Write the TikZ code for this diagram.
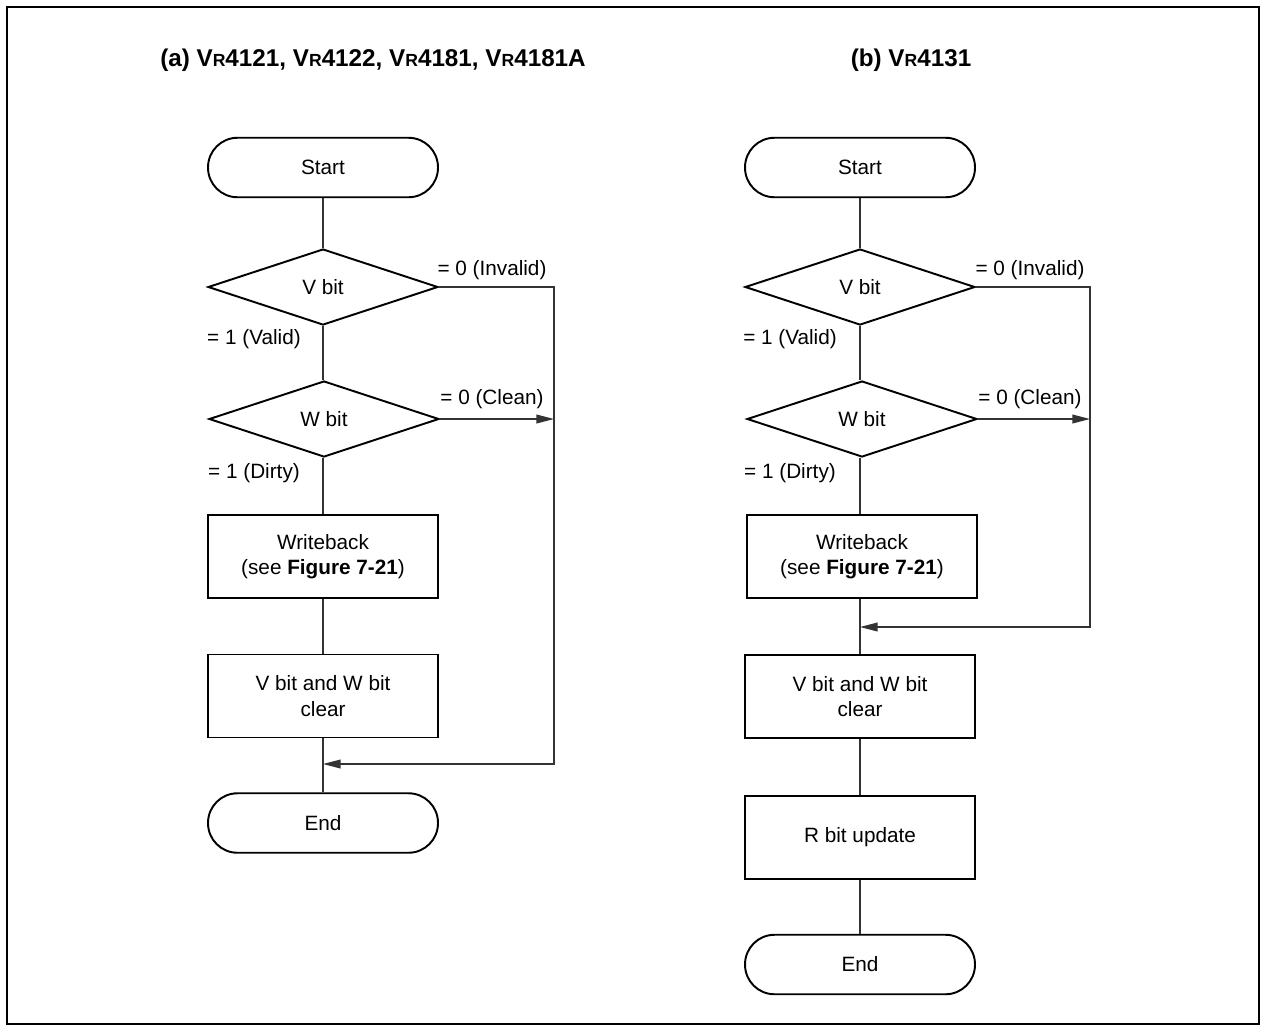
\documentclass[tikz,border=0pt]{standalone}
\usepackage{fontspec}
\setmainfont{Liberation Sans}
\usetikzlibrary{shapes.geometric,arrows.meta}

\newcommand{\VRname}[1]{V{\fontsize{10}{12}\selectfont R}#1}

\begin{document}
\begin{tikzpicture}[x=0.02cm, y=-0.02cm,
    every node/.style={font=\fontsize{11.8}{14.5}\selectfont},
    terminal/.style={draw=black, line width=1.1pt, rectangle, rounded corners=0.59cm,
        minimum width=4.6cm, minimum height=1.19cm},
    decision/.style={draw=black, line width=1.1pt, diamond, inner sep=0pt,
        minimum width=4.6cm, minimum height=1.52cm},
    process/.style={draw=black, line width=1.1pt, rectangle, align=center,
        minimum width=4.6cm, minimum height=1.66cm},
    flow/.style={line width=0.7pt, draw=black!80},
    flowarrow/.style={flow, -{Triangle[length=10pt, width=5pt]}},
    title/.style={font=\fontsize{13.8}{16}\selectfont\bfseries}]
    \useasboundingbox (0,0) rectangle (1266,1032);
    % frame
    \draw[line width=0.6pt] (7,7) rectangle (1259,1024);
    % titles
    \node[title] (titleA) at (373,60) {(a) \VRname{4121}, \VRname{4122}, \VRname{4181}, \VRname{4181A}};
    \node[title] (titleB) at (911,60) {(b) \VRname{4131}};

    % (a) nodes
    \node[terminal] (startA) at (323,167.5) {Start};
    \node[decision] (vA) at (323,287) {V bit};
    \node[decision] (wA) at (324,419) {W bit};
    \node[process] (wbA) at (323,556.5) {Writeback\\(see \textbf{Figure 7-21})};
    \node[process] (clrA) at (323,696) {V bit and W bit\\clear};
    \node[terminal] (endA) at (323,823) {End};
    % (a) labels
    \node (invA) at (492,270) {= 0 (Invalid)};
    \node (valA) at (254,339) {= 1 (Valid)};
    \node (clnA) at (492,399) {= 0 (Clean)};
    \node (drtA) at (254,473) {= 1 (Dirty)};
    % (a) edges
    \coordinate (cornerA) at (554,764);
    \coordinate (joinA) at (323,764);
    \draw[flow] (startA) -- (vA);
    \draw[flow] (vA) -- (vA |- wA.north);
    \draw[flow] (wA.south -| wbA.north) -- (wbA);
    \draw[flow] (wbA) -- (clrA);
    \draw[flow] (clrA) -- (endA);
    \draw[flowarrow] (vA.east) -| (cornerA) -- (joinA);
    \draw[flowarrow] (wA.east) -- (wA.east -| cornerA);

    % (b) nodes
    \node[terminal] (startB) at (860,167.5) {Start};
    \node[decision] (vB) at (860,287) {V bit};
    \node[decision] (wB) at (862,419) {W bit};
    \node[process] (wbB) at (862,556.5) {Writeback\\(see \textbf{Figure 7-21})};
    \node[process] (clrB) at (860,696.5) {V bit and W bit\\clear};
    \node[process] (rB) at (860,837.5) {R bit update};
    \node[terminal] (endB) at (860,964.5) {End};
    % (b) labels
    \node (invB) at (1030,270) {= 0 (Invalid)};
    \node (valB) at (790,339) {= 1 (Valid)};
    \node (clnB) at (1030,399) {= 0 (Clean)};
    \node (drtB) at (790,473) {= 1 (Dirty)};
    % (b) edges
    \coordinate (cornerB) at (1090,627);
    \coordinate (joinB) at (860,627);
    \draw[flow] (startB) -- (vB);
    \draw[flow] (vB) -- (vB |- wB.north);
    \draw[flow] (wB.south -| clrB.north) -- (clrB.north |- wbB.north);
    \draw[flow] (wbB.south -| clrB.north) -- (clrB);
    \draw[flow] (clrB) -- (rB);
    \draw[flow] (rB) -- (endB);
    \draw[flowarrow] (vB.east) -| (cornerB) -- (joinB);
    \draw[flowarrow] (wB.east) -- (wB.east -| cornerB);
\end{tikzpicture}
\end{document}
